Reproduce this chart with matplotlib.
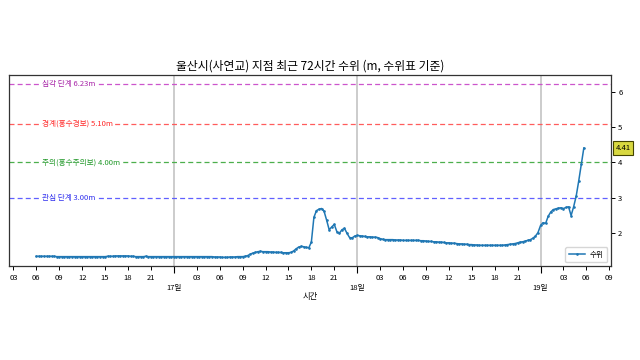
import matplotlib
matplotlib.use('Agg')
import matplotlib.pyplot as plt
import matplotlib.dates as mdates
import matplotlib.transforms as mtransforms
import pandas as pd

plt.rcParams['font.family'] = ['Noto Sans CJK KR', 'DejaVu Sans']

# 20-minute water level readings (m)
level_16 = [1.35, 1.35, 1.35, 1.35, 1.35, 1.35, 1.35, 1.35, 1.34,
            1.34, 1.34, 1.34, 1.34, 1.34, 1.34, 1.34, 1.34, 1.34,
            1.34, 1.34, 1.34, 1.34, 1.34, 1.34, 1.34, 1.34, 1.34,
            1.34, 1.35, 1.35, 1.35, 1.36, 1.36, 1.36, 1.36, 1.36,
            1.36, 1.35, 1.35, 1.34, 1.34, 1.34, 1.34, 1.35, 1.34,
            1.34, 1.34, 1.34, 1.34, 1.34, 1.34, 1.34, 1.34, 1.34]
level_17 = [1.34, 1.34, 1.34, 1.34, 1.34, 1.34, 1.34, 1.34, 1.34,
            1.34, 1.34, 1.34, 1.34, 1.34, 1.34, 1.34, 1.33, 1.33,
            1.33, 1.32, 1.32, 1.32, 1.33, 1.33, 1.33, 1.34, 1.34,
            1.34, 1.35, 1.37, 1.41, 1.44, 1.46, 1.48, 1.49, 1.48,
            1.48, 1.48, 1.47, 1.47, 1.46, 1.46, 1.46, 1.45, 1.45,
            1.45, 1.46, 1.50, 1.56, 1.61, 1.63, 1.62, 1.60, 1.59,
            1.75, 2.45, 2.64, 2.68, 2.70, 2.62, 2.37, 2.10, 2.18,
            2.25, 2.05, 2.00, 2.10, 2.14, 2.00, 1.88, 1.87, 1.92]
level_18 = [1.94, 1.93, 1.92, 1.91, 1.90, 1.90, 1.89, 1.89, 1.88,
            1.85, 1.83, 1.82, 1.82, 1.82, 1.82, 1.81, 1.81, 1.81,
            1.80, 1.80, 1.80, 1.80, 1.80, 1.80, 1.80, 1.79, 1.79,
            1.78, 1.77, 1.77, 1.76, 1.76, 1.75, 1.75, 1.74, 1.73,
            1.73, 1.72, 1.72, 1.71, 1.70, 1.70, 1.69, 1.69, 1.68,
            1.68, 1.67, 1.67, 1.66, 1.66, 1.66, 1.66, 1.66, 1.66,
            1.66, 1.66, 1.66, 1.66, 1.67, 1.68, 1.69, 1.70, 1.71,
            1.73, 1.75, 1.76, 1.78, 1.80, 1.82, 1.86, 1.92, 2.02]
level_19 = [2.22, 2.30, 2.28, 2.48, 2.60, 2.67, 2.69, 2.71, 2.72,
            2.70, 2.73, 2.75, 2.50, 2.75, 3.05, 3.48, 3.95, 4.41]

levels = level_16 + level_17 + level_18 + level_19
times = pd.date_range('2024-07-16 06:00', periods=len(levels), freq='20min')

thresholds = [6.23, 5.10, 4.00, 3.00]
threshold_names = ['심각 단계', '경계(홍수경보)', '주의(홍수주의보)', '관심 단계']
line_colors = ['#cc55cc', '#ff5c5c', '#4caf4c', '#6060ff']
text_colors = ['#a826a8', '#ff2a2a', '#22992a', '#3030ee']

fig = plt.figure(figsize=(6.4, 3.6), dpi=100)
ax = fig.add_axes([0.014, 0.261, 0.941, 0.531])

for val, name, lc, tc in zip(thresholds, threshold_names, line_colors, text_colors):
    ax.axhline(val, color=lc, linestyle='--', linewidth=0.9, dashes=(4, 2.5))
    ax.annotate(f'{name} {val:.2f}m', xy=(times[0], val), xytext=(4, 0),
                textcoords='offset points', fontsize=5.5, color=tc,
                ha='left', va='center',
                bbox=dict(boxstyle='square,pad=0.25', facecolor='white', edgecolor='none'))

ax.plot(times, levels, color='#1f77b4', marker='.', markersize=1.8,
        linewidth=1.1, label='수위')

ax.set_yticks([2, 3, 4, 5, 6])
ax.yaxis.tick_right()
ax.tick_params(axis='y', labelsize=5.5, length=3, width=0.7, pad=2)

ax.xaxis.set_major_locator(mdates.DayLocator())
ax.xaxis.set_major_formatter(mdates.DateFormatter('\n%d일'))
ax.xaxis.set_minor_locator(mdates.HourLocator(byhour=range(3, 24, 3)))
ax.xaxis.set_minor_formatter(mdates.DateFormatter('%H'))
ax.tick_params(axis='x', which='both', labelsize=5.5, pad=3)
ax.tick_params(axis='x', which='major', length=5, width=0.8, pad=1)
ax.tick_params(axis='x', which='minor', length=3, width=0.7)

ax.grid(axis='x', which='major', color='#c8c8c8', linewidth=1.3)
for sp in ax.spines.values():
    sp.set_color('#333333')
    sp.set_linewidth(0.9)

ax.set_title('울산시(사연교) 지점 최근 72시간 수위 (m, 수위표 기준)', fontsize=8.5, pad=4)
ax.set_xlabel('시간', fontsize=6, labelpad=0)

ax.legend(loc='lower right', fontsize=5.5, handlelength=2.2, borderpad=0.45,
          handletextpad=0.6)

trans = mtransforms.blended_transform_factory(ax.transAxes, ax.transData)
ax.text(1.02, levels[-1], f'{levels[-1]:.2f}', transform=trans, fontsize=5.5,
        ha='center', va='center',
        bbox=dict(boxstyle='square,pad=0.35', facecolor='#d8d840', edgecolor='#444400', linewidth=0.8))

fig.savefig('out.png', dpi=100)
